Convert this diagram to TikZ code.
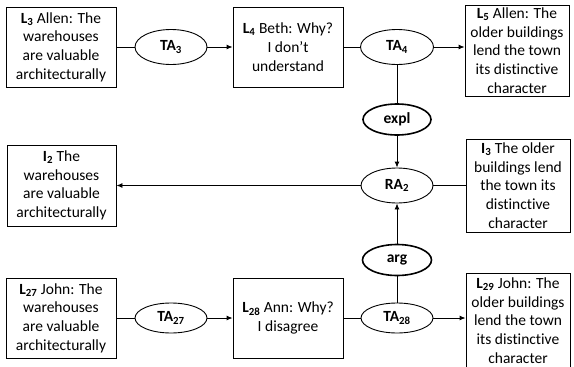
\documentclass[tikz,border=0pt]{standalone}
\usepackage{fontspec}
\setmainfont[Ligatures=NoCommon]{Carlito}
\usetikzlibrary{arrows.meta,shapes.geometric}
\newcommand{\lab}[2]{\textbf{#1\textsubscript{#2}}}
\tikzset{
  base/.style={font=\fontsize{15.5}{18.7}\selectfont, inner sep=0pt, align=center},
  locbox/.style={base, draw, line width=0.9pt, rectangle},
  ell/.style={base, draw, line width=0.9pt, ellipse, font=\fontsize{15.5}{18.7}\selectfont\bfseries},
  schem/.style={ell, line width=1.6pt},
  conn/.style={line width=0.9pt},
  arr/.style={conn, -{Latex[length=6pt,width=5pt]}},
}
\begin{document}
\begin{tikzpicture}[x=1pt,y=-1pt]
\useasboundingbox (0,0) rectangle (574,367);
% top row
\node[locbox, minimum width=110pt, minimum height=80pt] (L3) at (61,47) {\lab{L}{3} Allen: The\\warehouses\\are valuable\\architecturally};
\node[ell, minimum width=72pt, minimum height=35pt] (TA3) at (171,47) {TA\textsubscript{3}};
\node[locbox, minimum width=110pt, minimum height=80pt] (L4) at (288,47) {\lab{L}{4} Beth: Why?\\I don’t\\understand};
\node[ell, minimum width=73pt, minimum height=35pt] (TA4) at (397,47) {TA\textsubscript{4}};
\node[locbox, minimum width=104pt, minimum height=91pt] (L5) at (517,50.5) {\lab{L}{5} Allen: The\\older buildings\\lend the town\\its distinctive\\character};
% middle
\node[schem, minimum width=68pt, minimum height=31pt] (expl) at (397,119.5) {expl};
\node[ell, minimum width=72pt, minimum height=35pt] (RA2) at (397,185.5) {RA\textsubscript{2}};
\node[locbox, minimum width=109pt, minimum height=81pt] (I2) at (61.5,185.5) {\lab{I}{2} The\\warehouses\\are valuable\\architecturally};
\node[locbox, minimum width=104pt, minimum height=93pt] (I3) at (518,185.5) {\lab{I}{3} The older\\buildings lend\\the town its\\distinctive\\character};
\node[schem, minimum width=69pt, minimum height=31pt] (arg) at (397,260) {arg};
% bottom row
\node[locbox, minimum width=110pt, minimum height=80pt] (L27) at (61,318) {\lab{L}{27} John: The\\warehouses\\are valuable\\architecturally};
\node[ell, minimum width=72pt, minimum height=30pt] (TA27) at (171,318) {TA\textsubscript{27}};
\node[locbox, minimum width=110pt, minimum height=80pt] (L28) at (288,318) {\lab{L}{28} Ann: Why?\\I disagree};
\node[ell, minimum width=72pt, minimum height=30pt] (TA28) at (397,318) {TA\textsubscript{28}};
\node[locbox, minimum width=104pt, minimum height=94pt] (L29) at (518,320.5) {\lab{L}{29} John: The\\older buildings\\lend the town\\its distinctive\\character};
% connectors
\draw[conn] (L3) -- (TA3);
\draw[arr] (TA3) -- (L4);
\draw[conn] (L4) -- (TA4);
\draw[arr] (TA4.east) -- (TA4.east -| L5.west);
\draw[conn] (TA4) -- (expl);
\draw[arr] (expl) -- (RA2);
\draw[conn] (I3.west |- RA2.east) -- (RA2.east);
\draw[arr] (RA2.west) -- (RA2.west -| I2.east);
\draw[arr] (arg) -- (RA2);
\draw[conn] (TA28) -- (arg);
\draw[conn] (L27) -- (TA27);
\draw[arr] (TA27) -- (L28);
\draw[conn] (L28) -- (TA28);
\draw[arr] (TA28.east) -- (TA28.east -| L29.west);
\end{tikzpicture}
\end{document}
